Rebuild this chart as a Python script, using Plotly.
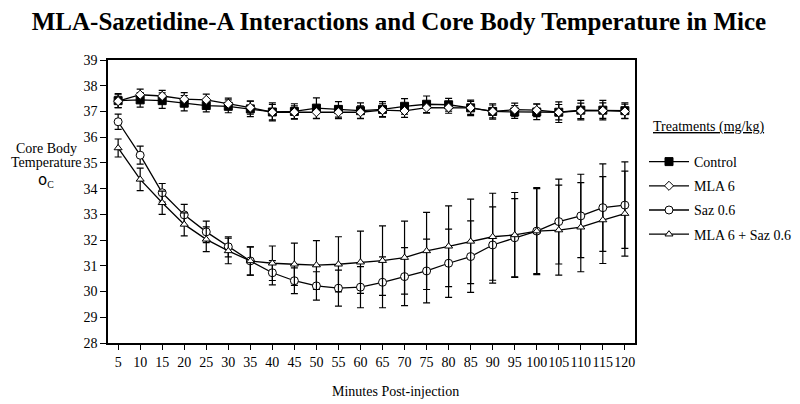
import plotly.graph_objects as go

minutes = [5, 10, 15, 20, 25, 30, 35, 40, 45, 50, 55, 60, 65, 70, 75, 80, 85, 90, 95, 100, 105, 110, 115, 120]

control = [37.42, 37.45, 37.42, 37.32, 37.23, 37.20, 37.10, 36.98, 37.00, 37.13, 37.08, 37.03,
           37.08, 37.20, 37.28, 37.26, 37.14, 37.00, 36.98, 36.98, 36.97, 37.05, 37.05, 37.03]
control_err = [0.27, 0.28, 0.30, 0.30, 0.25, 0.25, 0.30, 0.35, 0.30, 0.40, 0.30, 0.30,
               0.30, 0.30, 0.32, 0.25, 0.30, 0.30, 0.25, 0.30, 0.40, 0.38, 0.38, 0.30]

mla6 = [37.40, 37.65, 37.60, 37.48, 37.45, 37.30, 37.15, 36.97, 36.97, 36.97, 36.97, 36.97,
        37.05, 37.02, 37.15, 37.15, 37.14, 37.00, 37.07, 37.05, 36.97, 37.02, 37.03, 37.00]
mla6_err = [0.25, 0.22, 0.22, 0.25, 0.22, 0.22, 0.25, 0.30, 0.25, 0.25, 0.25, 0.25,
            0.25, 0.25, 0.22, 0.22, 0.25, 0.25, 0.25, 0.25, 0.30, 0.30, 0.30, 0.28]

saz = [36.60, 35.30, 33.84, 32.98, 32.32, 31.74, 31.19, 30.73, 30.42, 30.22, 30.13, 30.17,
       30.36, 30.58, 30.80, 31.10, 31.36, 31.81, 32.09, 32.35, 32.72, 32.94, 33.26, 33.36]
saz_err = [0.30, 0.35, 0.36, 0.41, 0.42, 0.39, 0.55, 0.47, 0.50, 0.55, 0.70, 0.80,
           0.99, 1.13, 1.24, 1.33, 1.39, 1.48, 1.52, 1.65, 1.65, 1.62, 1.70, 1.68]

combo = [35.58, 34.36, 33.45, 32.61, 32.03, 31.58, 31.19, 31.10, 31.06, 31.03, 31.06, 31.14,
         31.20, 31.32, 31.58, 31.76, 31.95, 32.13, 32.20, 32.35, 32.39, 32.50, 32.78, 33.03]
combo_err = [0.35, 0.44, 0.45, 0.45, 0.48, 0.50, 0.55, 0.67, 0.82, 0.95, 1.07, 1.21,
             1.35, 1.42, 1.50, 1.57, 1.64, 1.69, 1.65, 1.69, 1.75, 1.73, 1.69, 1.65]

series_names = ["Control", "MLA 6", "Saz 0.6", "MLA 6 + Saz 0.6"]
y_ticks = list(range(28, 40))

FONT = "Liberation Serif"

# The page body adds an 8px margin, so the figure is 8px smaller and
# every page position below is converted by subtracting that offset.
OFF = 8
W, H = 800 - OFF, 404 - OFF
PL, PR, PT, PB = 108, 635, 60, 343  # plot area in page pixels
PW, PH = PR - PL, PB - PT

def px(xp):
    return (xp - PL) / PW

def py(yp):
    return (PB - yp) / PH

fig = go.Figure()

specs = [
    (series_names[0], control, control_err, dict(symbol="square", size=8, color="black", line=dict(color="black", width=1))),
    (series_names[1], mla6, mla6_err, dict(symbol="diamond", size=7, color="white", line=dict(color="black", width=1))),
    (series_names[2], saz, saz_err, dict(symbol="circle", size=8, color="white", line=dict(color="black", width=1))),
    (series_names[3], combo, combo_err, dict(symbol="triangle-up", size=7, color="white", line=dict(color="black", width=1))),
]

for i, (name, vals, errs, mk) in enumerate(specs):
    fig.add_trace(go.Scatter(
        x=minutes, y=vals, name=name, mode="lines+markers",
        line=dict(color="black", width=1.3),
        marker=mk,
        error_y=dict(type="data", array=errs, visible=True, color="black", thickness=1.2, width=3.5),
        legendgroup=f"g{i}",
    ))

ylab = dict(xref="paper", yref="paper", xanchor="center", yanchor="middle",
            showarrow=False, font=dict(size=14))

fig.update_layout(
    width=W, height=H,
    margin=dict(l=PL - OFF, r=W - (PR - OFF), t=PT - OFF, b=H - (PB - OFF), autoexpand=False),
    paper_bgcolor="white", plot_bgcolor="white",
    font=dict(family=FONT, size=14, color="black"),
    title=dict(text="<b>MLA-Sazetidine-A Interactions and Core Body Temperature in Mice</b>",
               x=(399 - OFF) / W, xanchor="center", y=1 - (21 - OFF) / H, yanchor="middle",
               font=dict(family=FONT, size=25, color="black")),
    showlegend=True,
    legend=dict(xref="container", yref="container",
                x=(644 - OFF) / W, xanchor="left", y=1 - (146 - OFF) / H, yanchor="top",
                font=dict(family=FONT, size=14, color="black"),
                traceorder="grouped", tracegroupgap=3, bgcolor="rgba(0,0,0,0)",
                itemwidth=40),
    xaxis=dict(range=[2.7, 122.3], tickvals=minutes, ticks="outside", ticklen=5, tickwidth=1.2,
               tickangle=0, tickcolor="black", showline=True, linecolor="black", linewidth=1.5,
               mirror=True, showgrid=False, zeroline=False, tickfont=dict(size=14)),
    yaxis=dict(range=[28, 39], tickvals=y_ticks, ticks="outside", ticklen=6, tickwidth=1.2,
               tickcolor="black", showline=True, linecolor="black", linewidth=1.5, mirror=True,
               showgrid=False, zeroline=False, tickfont=dict(size=14)),
    annotations=[
        dict(text="Minutes Post-injection", xref="paper", yref="paper",
             x=px(395), y=py(391), xanchor="center", yanchor="middle",
             showarrow=False, font=dict(size=14)),
        dict(text="Core Body", x=px(46), y=py(148), **ylab),
        dict(text="Temperature", x=px(46), y=py(162), **ylab),
        dict(text="<span style='font-family:DejaVu Sans;font-size:15px'>o</span><sub>C</sub>",
             x=px(46), y=py(180), **ylab),
        dict(text="<u>Treatments (mg/kg)</u>", xref="paper", yref="paper",
             x=px(651), y=py(127), xanchor="left", yanchor="middle",
             showarrow=False, font=dict(size=14)),
    ],
)

fig.write_html("out.html")
